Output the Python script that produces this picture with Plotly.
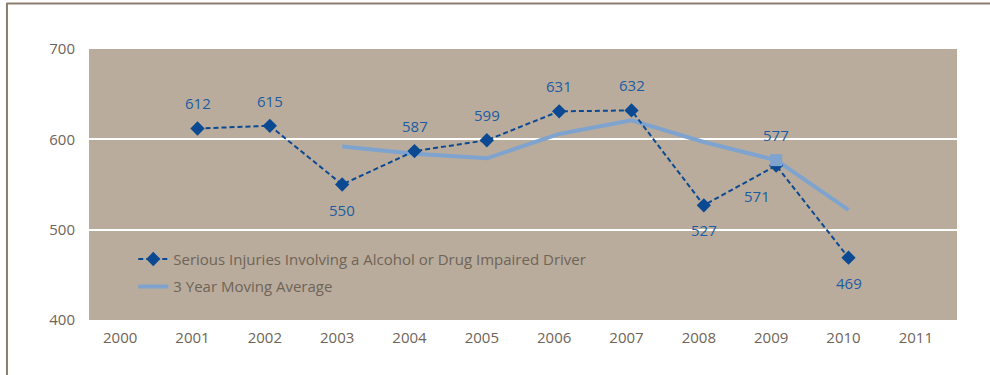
import plotly.graph_objects as go

years = ["2000", "2001", "2002", "2003", "2004", "2005", "2006", "2007", "2008", "2009", "2010", "2011"]
inj_years = ["2001", "2002", "2003", "2004", "2005", "2006", "2007", "2008", "2009", "2010"]
injuries = [612, 615, 550, 587, 599, 631, 632, 527, 571, 469]
inj_label_side = ["above", "above", "below", "above", "above", "above", "above", "below", "below-left", "below"]
ma_years = ["2003", "2004", "2005", "2006", "2007", "2008", "2009", "2010"]
moving_avg = [592, 584, 579, 606, 621, 597, 577, 522]
ma_marked_year = ["2009"]
ma_marked_val = [577]

dark = "#0B4A92"
light = "#7FA3CF"
txt = "#6F6458"
lbl = "#1D5BA3"
bg = "#B9AC9C"
font = "Open Sans, Lato, sans-serif"

fig = go.Figure()
fig.add_trace(go.Scatter(
    x=ma_years, y=moving_avg, mode="lines", name="3 Year Moving Average",
    line=dict(color=light, width=4), legendrank=2, legendgroup="b"))
fig.add_trace(go.Scatter(
    x=inj_years, y=injuries, mode="lines+markers",
    name="Serious Injuries Involving a Alcohol or Drug Impaired Driver",
    line=dict(color=dark, width=2, dash="5px,3px"),
    marker=dict(symbol="diamond", size=11, color=dark),
    legendrank=1, legendgroup="a"))
fig.add_trace(go.Scatter(
    x=ma_marked_year, y=ma_marked_val, mode="markers", showlegend=False,
    marker=dict(symbol="square", size=12, color=light)))

# category axis: annotations are positioned by category index
shifts = {"above": (0, 25), "below": (0, -25), "below-left": (-19, -30)}
for xv, yv, side in zip(inj_years, injuries, inj_label_side):
    dx, dy = shifts[side]
    fig.add_annotation(x=years.index(xv), y=yv, text=str(yv), showarrow=False,
                       xshift=dx, yshift=dy,
                       font=dict(color=lbl, size=15, family=font))
for xv, yv in zip(ma_marked_year, ma_marked_val):
    fig.add_annotation(x=years.index(xv), y=yv, text=str(yv), showarrow=False, yshift=25,
                       font=dict(color=lbl, size=15, family=font))

fig.update_layout(
    width=990, height=375,
    margin=dict(l=89, r=33, t=49, b=55),
    paper_bgcolor="white", plot_bgcolor=bg,
    font=dict(family=font, color=txt, size=14),
    showlegend=True,
    legend=dict(x=0.051, y=0.285, xanchor="left", yanchor="top", bgcolor="rgba(0,0,0,0)",
                font=dict(size=15, color=txt, family=font), traceorder="grouped",
                tracegroupgap=5),
    xaxis=dict(type="category", categoryorder="array", categoryarray=years,
               range=[-0.5, 11.5], showgrid=False, zeroline=False, showline=False,
               ticks="outside", ticklen=4, tickcolor="rgba(0,0,0,0)",
               ticklabelshift=-5,
               tickfont=dict(size=15, color=txt)),
    yaxis=dict(range=[400, 700], tickvals=[400, 500, 600, 700], showgrid=True,
               gridcolor="white", gridwidth=2, zeroline=False, showline=False,
               ticks="outside", ticklen=10, tickcolor="rgba(0,0,0,0)",
               tickfont=dict(size=15, color=txt)),
)
fig.add_shape(type="line", xref="paper", yref="paper", x0=-0.095, x1=1.04,
              y0=1.168, y1=1.168, line=dict(color="#8C7E6E", width=2))
fig.add_shape(type="line", xref="paper", yref="paper", x0=-0.0945, x1=-0.0945,
              y0=1.17, y1=-0.21, line=dict(color="#8C7E6E", width=2))

fig.write_html("out.html")
